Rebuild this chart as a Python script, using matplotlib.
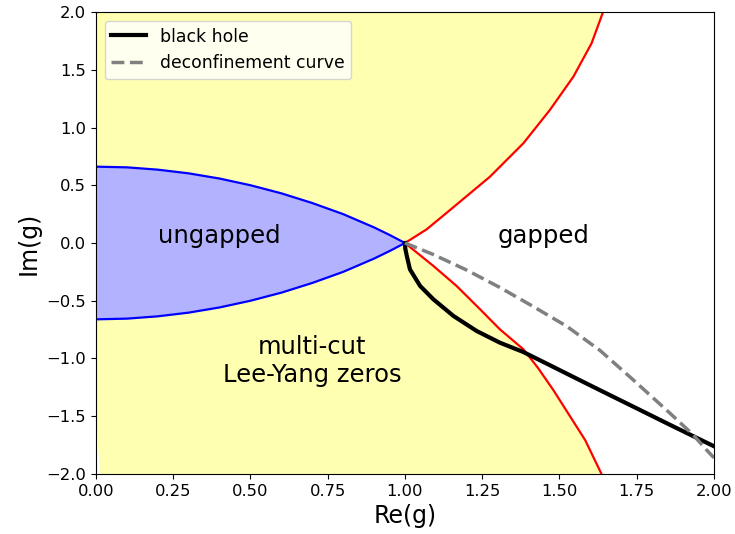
import matplotlib.pyplot as plt
import numpy as np

# boundary of the ungapped region (upper half, mirrored below)
blue_x = [0.0, 0.1, 0.2, 0.3, 0.4, 0.5, 0.6, 0.7, 0.8, 0.9, 0.95, 1.0]
blue_y = [0.661, 0.655, 0.635, 0.603, 0.558, 0.500, 0.430, 0.346, 0.250, 0.135, 0.07, 0.0]

# red boundaries of the multi-cut region
red_up_x = [1.0, 1.07, 1.146, 1.275, 1.383, 1.469, 1.545, 1.604, 1.641]
red_up_y = [0.0, 0.118, 0.286, 0.574, 0.863, 1.152, 1.44, 1.73, 2.0]
red_lo_x = [1.0, 1.092, 1.167, 1.243, 1.307, 1.383, 1.43, 1.48, 1.583, 1.636]
red_lo_y = [0.0, -0.199, -0.372, -0.574, -0.747, -0.92, -1.08, -1.273, -1.706, -2.0]

# left edge of the yellow region near the bottom
left_x = [0.0, 0.005, 0.013]
left_y = [-1.3, -1.7, -2.0]

# black hole curve
bh_x = [1.0, 1.001, 1.006, 1.016, 1.049, 1.092, 1.157, 1.232, 1.307, 1.383,
        1.459, 1.545, 1.62, 1.76, 1.858, 2.0]
bh_y = [0.0, -0.05, -0.113, -0.228, -0.372, -0.488, -0.632, -0.762, -0.863, -0.944,
        -1.045, -1.16, -1.26, -1.445, -1.575, -1.76]

# deconfinement curve
dc_x = [1.0, 1.092, 1.2, 1.307, 1.415, 1.523, 1.631, 1.739, 1.858, 1.933, 1.976, 2.0]
dc_y = [0.0, -0.1, -0.235, -0.385, -0.55, -0.72, -0.93, -1.186, -1.475, -1.662, -1.792, -1.86]

fig = plt.figure(figsize=(7.35, 5.34), dpi=100)
ax = fig.add_axes([0.1306, 0.1124, 0.8408, 0.8651])

# yellow multi-cut region
px = [0.0] + red_up_x[::-1] + red_lo_x + left_x[::-1]
py = [2.0] + red_up_y[::-1] + red_lo_y + left_y[::-1]
ax.fill(px, py, color='yellow', alpha=0.3, lw=0)

# ungapped region
bx = np.array(blue_x)
by = np.array(blue_y)
ox = np.concatenate([bx, bx[::-1]])
oy = np.concatenate([by, -by[::-1]])
ax.fill(ox, oy, color='white', lw=0)
ax.fill(ox, oy, color='blue', alpha=0.3, lw=0)
ax.plot(bx, by, color='blue', lw=1.6)
ax.plot(bx, -by, color='blue', lw=1.6)

ax.plot(red_up_x, red_up_y, color='red', lw=1.6)
ax.plot(red_lo_x, red_lo_y, color='red', lw=1.6)

ax.plot(bh_x, bh_y, color='black', lw=3, label='black hole')
ax.plot(dc_x, dc_y, color='gray', lw=2.5, ls='--', label='deconfinement curve')

ax.text(0.40, 0.06, 'ungapped', fontsize=17.5, ha='center', va='center')
ax.text(1.45, 0.06, 'gapped', fontsize=17.5, ha='center', va='center')
ax.text(0.70, -1.02, 'multi-cut\nLee-Yang zeros', fontsize=17.5, ha='center', va='center')

ax.set_xlim(0, 2)
ax.set_ylim(-2, 2)
ax.tick_params(labelsize=11.8)
ax.set_xlabel('Re(g)', fontsize=17)
ax.set_ylabel('Im(g)', fontsize=17)
ax.legend(loc='upper left', fontsize=12.4)

fig.savefig('out.png', dpi=100)
